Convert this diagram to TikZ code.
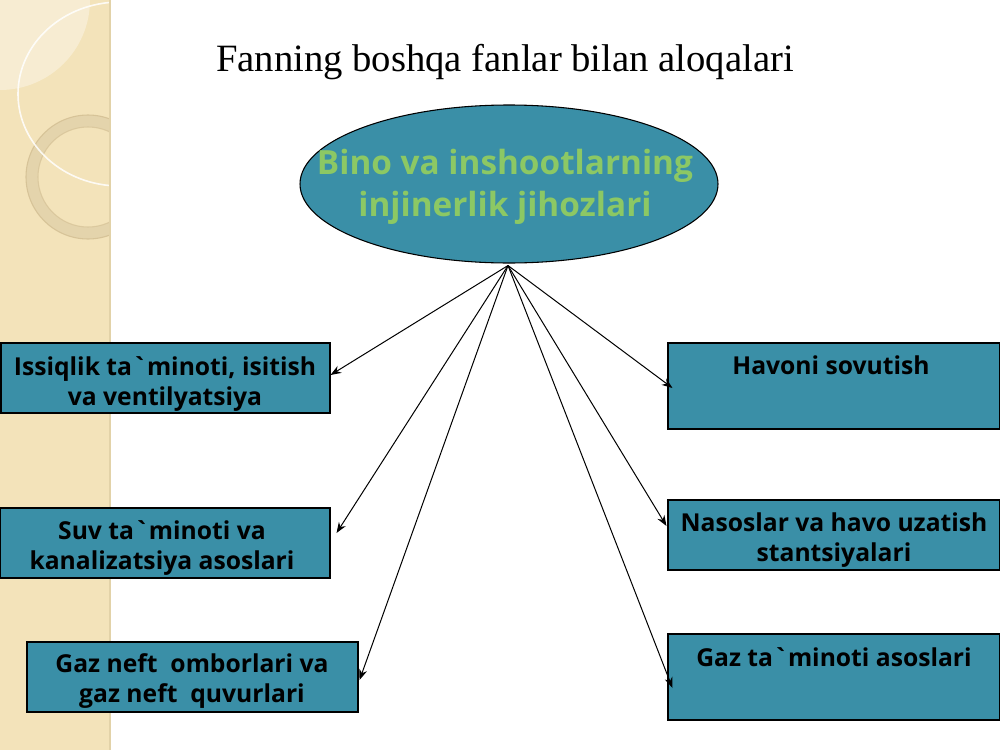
\documentclass[tikz,border=0pt]{standalone}
\usepackage{fontspec}
\setmainfont{Liberation Serif}
\newfontfamily\nsans{Open Sans}
\usetikzlibrary{arrows.meta,calc,shapes.geometric}
\definecolor{tealfill}{RGB}{58,143,167}
\definecolor{greentxt}{RGB}{140,200,100}
\definecolor{stripbg}{RGB}{243,227,186}
\definecolor{ringcol}{RGB}{228,212,172}
\definecolor{ringedge}{RGB}{210,190,146}
\definecolor{edgecol}{RGB}{226,210,168}
\tikzset{
  boxnode/.style={draw=black, line width=0.8pt, fill=tealfill, inner sep=0pt},
  boxlabel/.style={inner sep=0pt, align=center, font=\nsans\bfseries\fontsize{18.5pt}{22.5pt}\selectfont},
  arr/.style={draw=black, line width=0.75pt, -{Stealth[length=8pt,width=6pt]}},
}
\begin{document}
\begin{tikzpicture}[x=0.75pt,y=-0.75pt]
\useasboundingbox (0,0) rectangle (1000,750);
\fill[white] (0,0) rectangle (1000,750);
% decorative left strip
\begin{scope}
  \clip (0,0) rectangle (110,750);
  \fill[stripbg] (0,0) rectangle (110,750);
  \fill[white, opacity=0.35] (0,0) circle [radius=90];
  \draw[ringcol, line width=9pt] (88,177) circle [radius=56];
  \draw[ringedge, line width=0.8pt, opacity=0.8] (88,177) circle [radius=62];
  \draw[ringedge, line width=0.8pt, opacity=0.6] (88,177) circle [radius=50];
  \draw[white, opacity=0.85, line width=1.2pt] (120,94) ellipse [x radius=102, y radius=92];
\end{scope}
\draw[edgecol, line width=1.5pt] (110,0) -- (110,750);
% title
\node[font=\fontsize{29pt}{34pt}\selectfont, inner sep=0pt] (title) at (505,62) {Fanning boshqa fanlar bilan aloqalari};
% central ellipse
\node[ellipse, draw=black, line width=0.8pt, fill=tealfill, inner sep=0pt,
      minimum width=313.5pt, minimum height=118.5pt] (E) at (509,184) {};
\node[text=greentxt, align=center, inner sep=0pt,
      font=\nsans\bfseries\fontsize{25pt}{31.5pt}\selectfont] (Et) at (505,187)
      {Bino va inshootlarning\\injinerlik jihozlari};
% boxes
\node[boxnode, minimum width=246.75pt, minimum height=52.5pt] (L1) at (165.5,378) {};
\node[boxlabel] (L1t) at (165,384) {Issiqlik ta\textasciigrave minoti, isitish\\va ventilyatsiya};
\node[boxnode, minimum width=247.5pt, minimum height=52.5pt] (L2) at (165,543) {};
\node[boxlabel] (L2t) at (162,548) {Suv ta\textasciigrave minoti va\\kanalizatsiya asoslari};
\node[boxnode, minimum width=248.25pt, minimum height=52.5pt] (L3) at (192.5,677) {};
\node[boxlabel] (L3t) at (192,681) {Gaz neft~ omborlari va\\gaz neft~ quvurlari};
\node[boxnode, minimum width=249pt, minimum height=64.5pt] (R1) at (834,386) {};
\node[boxlabel] (R1t) at (831,365) {Havoni sovutish};
\node[boxnode, minimum width=249pt, minimum height=52.5pt] (R2) at (834,535) {};
\node[boxlabel] (R2t) at (834,540) {Nasoslar va havo uzatish\\stantsiyalari};
\node[boxnode, minimum width=249pt, minimum height=64.5pt] (R3) at (834,677) {};
\node[boxlabel] (R3t) at (834,657) {Gaz ta\textasciigrave minoti asoslari};
% connectors
\coordinate (apex) at ($(E.south)+(-1,2)$);
\draw[arr] (apex) -- ($(L1.east)+(0,-3)$);
\draw[arr] (apex) -- ($(L2.east)+(6,-10)$);
\draw[arr] (apex) -- ($(L3.east)+(1,3)$);
\draw[arr] (apex) -- ($(R1.west)+(5,2)$);
\draw[arr] (apex) -- ($(R2.west)+(-1,-9)$);
\draw[arr] (apex) -- ($(R3.west)+(5,11)$);
\end{tikzpicture}
\end{document}
